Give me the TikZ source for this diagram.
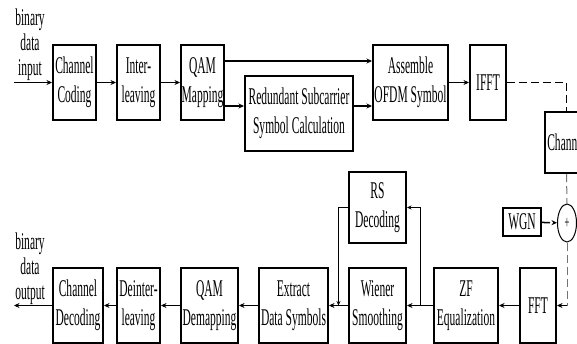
\documentclass[tikz,border=0pt]{standalone}
\usepackage{fontspec}
\setmainfont{Liberation Serif}[FakeStretch=0.48]
\usetikzlibrary{arrows.meta,shapes.geometric,calc}
\tikzset{
	blk/.style={draw, line width=2pt, align=center, inner sep=0pt, font=\fontsize{24}{29}\selectfont},
	lbl/.style={align=center, inner sep=0pt, font=\fontsize{24}{25}\selectfont},
	arr/.style={line width=1.5pt, -{Stealth[length=5.5pt,width=5pt]}},
	fbk/.style={line width=0.8pt, -{Stealth[length=4.5pt,width=4pt]}},
	dsh/.style={line width=1.5pt, dash pattern=on 8pt off 4pt},
	dsv/.style={line width=1pt, color=black!55, dash pattern=on 8pt off 4pt}
}

\begin{document}
\begin{tikzpicture}[x=1pt, y=-1pt]
			%%%%% START %%%%%
			\useasboundingbox (0,0) rectangle (577,343);
			\clip (0,0) rectangle (577,343);
			
			% transmitter
			\node[lbl] (inlbl) at (30,45) {binary\\data\\input};
			\coordinate (in) at (14,82.5);
			\node[blk, minimum width=43pt, minimum height=75pt] (cc) at (74.5,82.5) {Channel\\Coding};
			\node[blk, minimum width=43pt, minimum height=75pt] (il) at (138.5,82.5) {Inter-\\leaving};
			\node[blk, minimum width=43pt, minimum height=75pt] (qam) at (202.5,82.5) {QAM\\Mapping};
			\node[blk, minimum width=108pt, minimum height=75pt] (rss) at (299,113.5) {Redundant Subcarrier\\Symbol Calculation};
			\node[blk, minimum width=75pt, minimum height=75pt] (asm) at (410.5,82.5) {Assemble\\OFDM Symbol};
			\node[blk, minimum width=36pt, minimum height=75pt] (ifft) at (488,82.5) {IFFT};
			
			\draw[arr] (in) -- (cc);
			\draw[arr] (cc) -- (il);
			\draw[arr] (il) -- (qam);
			\draw[arr] (qam.east |- 0,61) -- (asm.west |- 0,61);
			\draw[arr] (qam.east |- 0,106) -- (rss.west |- 0,106);
			\draw[arr] (rss.east |- 0,106) -- (asm.west |- 0,106);
			\draw[arr] (asm) -- (ifft);
			
			% channel
			\node[blk, minimum width=43pt, minimum height=61pt] (chan) at (566.5,142.5) {Channel};
			\node[blk, minimum width=38pt, minimum height=28pt] (wgn) at (522,222) {WGN};
			\node[draw, ellipse, line width=1pt, minimum width=19pt, minimum height=38pt, inner sep=0pt, font=\fontsize{18}{18}\selectfont] (plus) at (567,223) {+};
			\coordinate (down) at (plus.south |- 0,305.5);
			
			\draw[dsh] (ifft.east) -| (chan.north);
			\draw[dsv] (chan.south) -- (plus.north);
			\draw[dsh, -{Stealth[length=5.5pt,width=5pt]}] (wgn) -- (plus);
			\draw[dsv] (plus.south) -- (down);
			
			% receiver
			\node[blk, minimum width=36pt, minimum height=75pt] (fft) at (538,305.5) {FFT};
			\node[blk, minimum width=64pt, minimum height=75pt] (zf) at (466,305.5) {ZF\\Equalization};
			\node[blk, minimum width=57pt, minimum height=75pt] (ws) at (377.5,305.5) {Wiener\\Smoothing};
			\node[blk, minimum width=57pt, minimum height=71pt] (rs) at (377.5,207.5) {RS\\Decoding};
			\node[blk, minimum width=69pt, minimum height=75pt] (ext) at (293.5,305.5) {Extract\\Data Symbols};
			\node[blk, minimum width=57pt, minimum height=75pt] (qdm) at (209.5,305.5) {QAM\\Demapping};
			\node[blk, minimum width=43pt, minimum height=75pt] (dil) at (138.5,305.5) {Deinter-\\leaving};
			\node[blk, minimum width=50pt, minimum height=75pt] (cd) at (78,305.5) {Channel\\Decoding};
			\node[lbl] (outlbl) at (30,269) {binary\\data\\output};
			\coordinate (out) at (14,305.5);
			\coordinate (tap) at ($(ws.east)!0.5!(zf.west)$);
			\coordinate (join) at ($(ext.east)!0.5!(ws.west)$);
			
			\draw[arr] (down) -- (fft);
			\draw[arr] (fft) -- (zf);
			\draw[arr] (zf) -- (ws);
			\draw[fbk] (tap) |- (rs.east);
			\draw[fbk] (rs.west) -| (join);
			\draw[arr] (ws) -- (ext);
			\draw[arr] (ext) -- (qdm);
			\draw[arr] (qdm) -- (dil);
			\draw[arr] (dil) -- (cd);
			\draw[arr] (cd) -- (out);
			
			%%%%% END %%%%%
\end{tikzpicture}
\end{document}
